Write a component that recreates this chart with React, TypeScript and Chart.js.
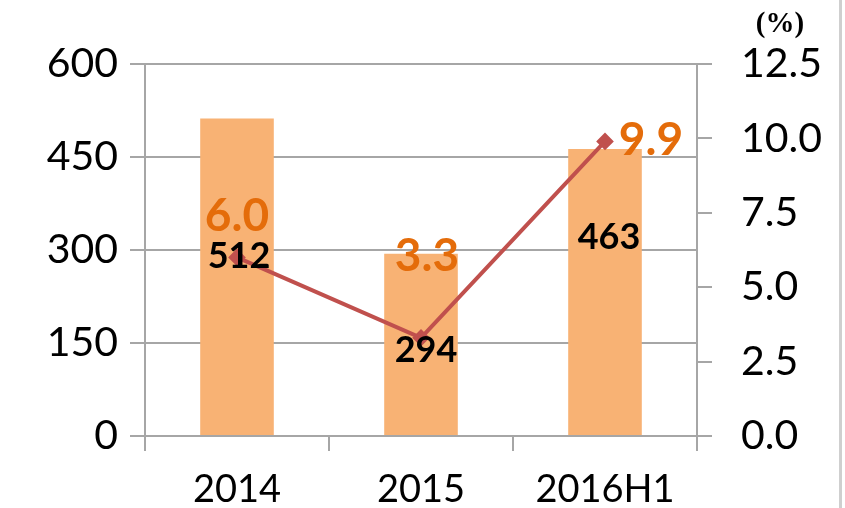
import React, { useEffect, useRef } from "react";
import { Chart, registerables } from "chart.js";

Chart.register(...registerables);

const categories = ["2014", "2015", "2016H1"];
const barValues = [512, 294, 463];
const lineValues = [6.0, 3.3, 9.9];
const leftTicks = [0, 150, 300, 450, 600];
const rightTicks = [0, 2.5, 5.0, 7.5, 10.0, 12.5];

const TICK_FONT = "Lato";

const labelPlugin = {
  id: "customLabels",
  afterDatasetsDraw(chart: any) {
    const ctx = chart.ctx;
    const barMeta = chart.getDatasetMeta(0);
    const lineMeta = chart.getDatasetMeta(1);
    ctx.save();
    ctx.textAlign = "center";
    ctx.textBaseline = "middle";
    const barOff = [
      [2, 138],
      [5, 97],
      [4, 88],
    ];
    ctx.fillStyle = "#000000";
    ctx.font = `bold 36px ${TICK_FONT}`;
    barMeta.data.forEach((el: any, i: number) => {
      ctx.fillText(String(barValues[i]), el.x + barOff[i][0], el.y + barOff[i][1]);
    });
    const lineOff = [
      [0, -41],
      [6, -82],
      [46, -1],
    ];
    ctx.fillStyle = "#E46C0A";
    ctx.font = `bold 46px ${TICK_FONT}`;
    lineMeta.data.forEach((el: any, i: number) => {
      ctx.fillText(lineValues[i].toFixed(1), el.x + lineOff[i][0], el.y + lineOff[i][1]);
    });
    ctx.restore();
  },
  afterDraw(chart: any) {
    const ctx = chart.ctx;
    const right = chart.scales.y1;
    ctx.save();
    ctx.fillStyle = "#000000";
    ctx.font = `bold 29px "Liberation Serif"`;
    ctx.textAlign = "center";
    ctx.textBaseline = "middle";
    ctx.fillText("(%)", right.left + 83, 25);
    ctx.restore();
  },
};

export default function App() {
  const ref = useRef<HTMLCanvasElement | null>(null);
  useEffect(() => {
    if (!ref.current) return;
    const gray = "#A6A6A6";
    const chart = new Chart(ref.current, {
      type: "bar",
      data: {
        labels: categories,
        datasets: [
          {
            type: "bar",
            data: barValues,
            backgroundColor: "#F8B274",
            yAxisID: "y",
            categoryPercentage: 1,
            barPercentage: 0.4,
            order: 2,
          },
          {
            type: "line",
            data: lineValues,
            borderColor: "#C0504D",
            backgroundColor: "#C0504D",
            borderWidth: 4,
            pointStyle: "rectRot",
            pointRadius: 6,
            yAxisID: "y1",
            order: 1,
          } as any,
        ],
      },
      options: {
        animation: false,
        responsive: false,
        maintainAspectRatio: false,
        layout: { padding: { top: 64, left: 0, right: 0, bottom: 0 } },
        plugins: { legend: { display: false }, tooltip: { enabled: false }, title: { display: false } },
        scales: {
          x: {
            grid: {
              offset: true,
              drawOnChartArea: false,
              drawTicks: true,
              tickLength: 15,
              color: gray,
              lineWidth: 2,
            },
            border: { display: true, color: gray, width: 2 },
            ticks: {
              color: "#000",
              font: { family: TICK_FONT, size: 38 },
              padding: 16,
            },
            afterFit(scale: any) {
              scale.height = 72;
            },
          },
          y: {
            position: "left",
            min: 0,
            max: 600,
            afterBuildTicks(scale: any) {
              scale.ticks = leftTicks.map((v) => ({ value: v }));
            },
            grid: {
              color: gray,
              lineWidth: 2,
              tickLength: 15,
              drawTicks: true,
            },
            border: { display: true, color: gray, width: 2 },
            ticks: {
              color: "#000",
              font: { family: TICK_FONT, size: 41 },
              padding: 12,
            },
            afterFit(scale: any) {
              scale.width = 145;
            },
          },
          y1: {
            position: "right",
            min: 0,
            max: 12.5,
            afterBuildTicks(scale: any) {
              scale.ticks = rightTicks.map((v) => ({ value: v }));
            },
            grid: {
              drawOnChartArea: false,
              color: gray,
              lineWidth: 2,
              tickLength: 15,
              drawTicks: true,
            },
            border: { display: true, color: gray, width: 2 },
            ticks: {
              color: "#000",
              font: { family: TICK_FONT, size: 41 },
              padding: 29,
              callback: (v: any) => Number(v).toFixed(1),
            },
            afterFit(scale: any) {
              scale.width = 148;
            },
          },
        },
      },
      plugins: [labelPlugin],
    });
    return () => chart.destroy();
  }, []);
  return (
    <div style={{ position: "absolute", left: 0, top: 0, width: 845, height: 508, background: "#fff", overflow: "hidden" }}>
      <canvas ref={ref} width={845} height={508} style={{ display: "block" }} />
      <div style={{ position: "absolute", left: 839, top: 0, width: 3, height: 508, background: "#CFCFCF" }} />
    </div>
  );
}
